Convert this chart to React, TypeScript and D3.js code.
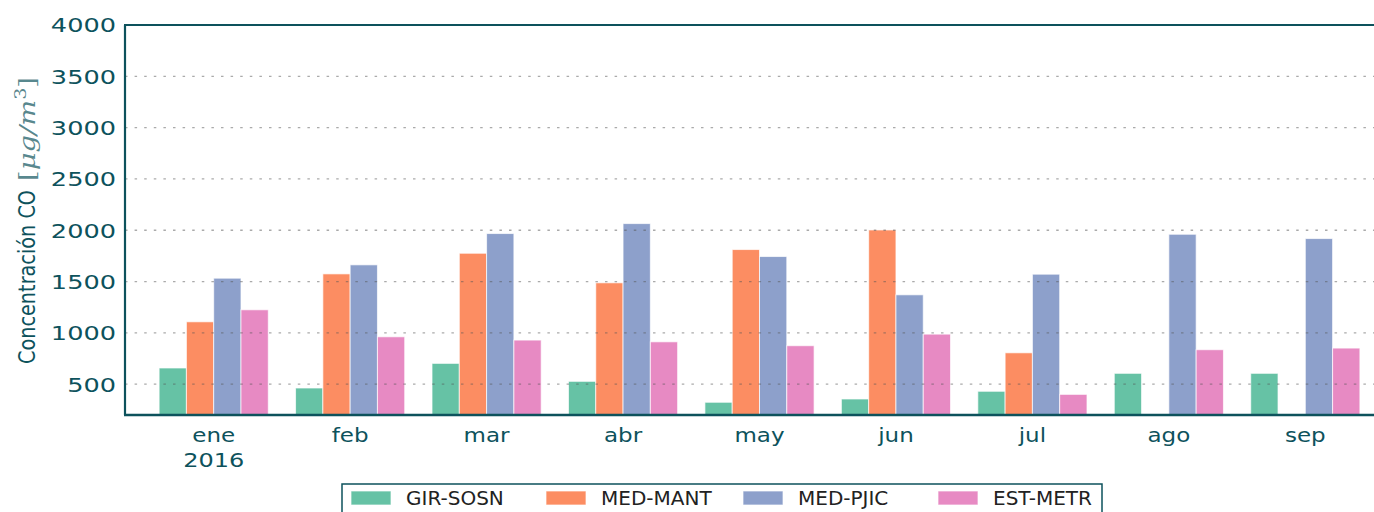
import { useEffect, useRef } from 'react'
import * as d3 from 'd3'

const months = ['ene', 'feb', 'mar', 'abr', 'may', 'jun', 'jul', 'ago', 'sep']
const seriesNames = ['GIR-SOSN', 'MED-MANT', 'MED-PJIC', 'EST-METR']
const girSosn = [658, 463, 703, 528, 324, 356, 431, 606, 606]
const medMant = [1108, 1575, 1776, 1488, 1812, 2003, 806, null, null]
const medPjic = [1533, 1663, 1968, 2065, 1744, 1371, 1572, 1961, 1919]
const estMetr = [1225, 962, 930, 913, 875, 988, 401, 836, 852]
const yTicks = [500, 1000, 1500, 2000, 2500, 3000, 3500, 4000]
const colors = ['#66c2a5', '#fc8d62', '#8da0cb', '#e78ac3']

export default function App() {
  const svgRef = useRef<SVGSVGElement | null>(null)

  useEffect(() => {
    if (!svgRef.current) return
    const width = 1374
    const height = 512
    const ink = '#0d525c'
    const font = '"DejaVu Sans", sans-serif'

    const svg = d3.select(svgRef.current)
    svg.selectAll('*').remove()
    svg.attr('width', width).attr('height', height)

    const left = 125
    const right = 1394
    const top = 25
    const bottom = 415

    const x = d3.scaleLinear().domain([-0.65, months.length - 1 + 0.65]).range([left, right])
    const inner = d3.scaleBand<string>().domain(seriesNames).range([-0.4, 0.4])
    const y = d3.scaleLinear().domain([200, 4000]).range([bottom, top])

    const allSeries = [girSosn, medMant, medPjic, estMetr]

    // bars
    allSeries.forEach((vals, si) => {
      const off = inner(seriesNames[si]) as number
      svg
        .append('g')
        .selectAll('rect')
        .data(vals.map((v, i) => ({ v, i })).filter(d => d.v != null))
        .enter()
        .append('rect')
        .attr('x', d => x(d.i + off))
        .attr('width', d => x(d.i + off + inner.bandwidth()) - x(d.i + off))
        .attr('y', d => y(d.v as number))
        .attr('height', d => bottom - y(d.v as number))
        .attr('fill', colors[si])
        .attr('stroke', '#fff')
        .attr('stroke-opacity', 0.7)
        .attr('stroke-width', 1)
    })

    // dotted grid on top of bars
    svg
      .append('g')
      .selectAll('line')
      .data(yTicks.filter(t => t < 4000))
      .enter()
      .append('line')
      .attr('x1', left)
      .attr('x2', right)
      .attr('y1', d => y(d))
      .attr('y2', d => y(d))
      .attr('stroke', '#555')
      .attr('stroke-opacity', 0.5)
      .attr('stroke-width', 1.3)
      .attr('stroke-dasharray', '2.5,7.1')

    // spines
    svg.append('line').attr('x1', left).attr('x2', left).attr('y1', top).attr('y2', bottom)
      .attr('stroke', ink).attr('stroke-width', 2.2)
    svg.append('line').attr('x1', left - 1).attr('x2', right).attr('y1', top).attr('y2', top)
      .attr('stroke', ink).attr('stroke-width', 2.2)
    svg.append('line').attr('x1', left - 1).attr('x2', right).attr('y1', bottom).attr('y2', bottom)
      .attr('stroke', ink).attr('stroke-width', 2.5)

    // y tick labels
    svg
      .append('g')
      .selectAll('text')
      .data(yTicks)
      .enter()
      .append('text')
      .attr('transform', d => `translate(116, ${y(d) + 7.3}) scale(1.28,1)`)
      .attr('text-anchor', 'end')
      .style('font-family', font)
      .style('font-size', '20px')
      .style('fill', ink)
      .text(d => d)

    // x tick labels
    svg
      .append('g')
      .selectAll('text')
      .data(months)
      .enter()
      .append('text')
      .attr('transform', (d, i) => `translate(${x(i)}, 442) scale(1.15,1)`)
      .attr('text-anchor', 'middle')
      .style('font-family', font)
      .style('font-size', '20px')
      .style('fill', ink)
      .text(d => d)
    svg
      .append('text')
      .attr('transform', `translate(${x(0)}, 467) scale(1.2,1)`)
      .attr('text-anchor', 'middle')
      .style('font-family', font)
      .style('font-size', '20px')
      .style('fill', ink)
      .text('2016')

    // y label
    svg
      .append('text')
      .attr('transform', 'translate(35, 364) rotate(-90)')
      .attr('textLength', 174)
      .attr('lengthAdjust', 'spacingAndGlyphs')
      .style('font-family', font)
      .style('font-size', '23px')
      .style('fill', ink)
      .text('Concentración CO')
    const math = svg
      .append('text')
      .attr('transform', 'translate(35, 181) rotate(-90)')
      .attr('textLength', 104)
      .attr('lengthAdjust', 'spacingAndGlyphs')
      .style('font-family', '"DejaVu Serif", serif')
      .style('font-size', '23px')
      .style('fill', ink)
      .style('fill-opacity', 0.7)
    math.append('tspan').style('font-style', 'normal').text('[')
    math.append('tspan').style('font-style', 'italic').text('μg/m')
    math.append('tspan').style('font-size', '16px').attr('dy', -9).text('3')
    math.append('tspan').attr('dy', 9).text(']')

    // legend
    const lg = svg.append('g')
    lg.append('rect')
      .attr('x', 342)
      .attr('y', 484)
      .attr('width', 760)
      .attr('height', 40)
      .attr('fill', '#fff')
      .attr('stroke', ink)
      .attr('stroke-width', 1.5)
    const legendX = [351, 546, 743, 938]
    seriesNames.forEach((name, i) => {
      lg.append('rect')
        .attr('x', legendX[i])
        .attr('y', 491)
        .attr('width', 40)
        .attr('height', 14)
        .attr('fill', colors[i])
        .attr('stroke', '#fff')
        .attr('stroke-opacity', 0.7)
      lg.append('text')
        .attr('x', legendX[i] + 55)
        .attr('y', 505)
        .style('font-family', font)
        .style('font-size', '20px')
        .style('fill', '#222')
        .text(name)
    })
  }, [])

  return (
    <div>
      <svg ref={svgRef} style={{ position: 'absolute', left: 0, top: 0 }}></svg>
    </div>
  )
}
